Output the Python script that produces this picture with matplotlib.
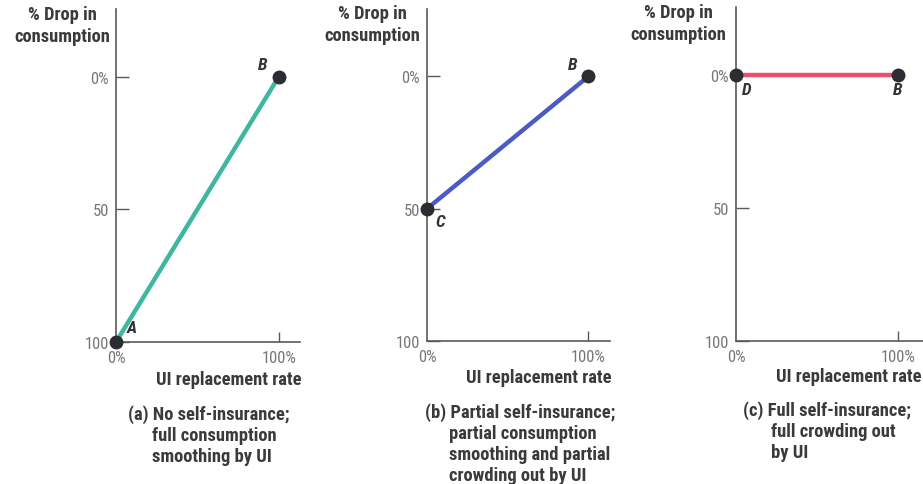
import matplotlib
matplotlib.use("Agg")
import matplotlib.pyplot as plt

plt.rcParams['font.family'] = ['Liberation Sans Narrow', 'Roboto Condensed', 'DejaVu Sans']

# Data
ui_rate = [0, 100]
drop_a = [100, 0]
drop_b = [50, 0]
drop_c = [0, 0]
ytick_vals = [0, 50, 100]
ytick_labels = ["0%", "50", "100"]
xtick_vals = [0, 100]
xtick_labels = ["0%", "100%"]
captions = [
    ["(a) No self-insurance;", "full consumption", "smoothing by UI"],
    ["(b) Partial self-insurance;", "partial consumption", "smoothing and partial", "crowding out by UI"],
    ["(c) Full self-insurance;", "full crowding out", "by UI"],
]
colors = ["#3fb6a0", "#4a5cc4", "#ec4f6c"]
series = [drop_a, drop_b, drop_c]
point_names = [("A", "B"), ("C", "B"), ("D", "B")]

W, H = 923, 485
fig = plt.figure(figsize=(W / 100, H / 100), dpi=100)

def fx(px):
    return px / W

def fy(py):
    return 1 - py / H

# axes boxes in pixel: left, right, top, bottom, xmax
boxes = [(116, 300, 10, 343, 113), (427, 610, 10, 342, 113.5), (736, 923, 8, 342, 115.3)]
ylab_x = [62, 372, 678]
ylab_y = [26, 25, 24]
xlab_right = [302, 612, 922]
xlab_y = [380, 378, 377]
cap_x = [(128, 152), (425, 449), (743, 771)]
cap_y0 = [415, 413, 411]

grey = "#5a5a5a"
dark = "#333338"
tfs = 13.3

for i in range(3):
    l, r, t, b, xmax = boxes[i]
    ax = fig.add_axes([fx(l), fy(b), fx(r) - fx(l), fy(t) - fy(b)])
    ax.set_xlim(0, xmax)
    ax.set_ylim(100, -25.5)
    for s in ["top", "right"]:
        ax.spines[s].set_visible(False)
    for s in ["left", "bottom"]:
        ax.spines[s].set_color(grey)
        ax.spines[s].set_linewidth(1.2)
    ax.set_yticks(ytick_vals)
    ax.set_yticklabels(ytick_labels)
    ax.set_xticks(xtick_vals)
    ax.set_xticklabels(xtick_labels)
    ax.tick_params(axis="y", direction="in", length=9, width=1.0, color=grey,
                   labelsize=12, labelcolor="#777777", pad=5)
    ax.tick_params(axis="x", direction="in", length=7, width=1.0, color=grey,
                   labelsize=12, labelcolor="#777777", pad=6)
    ax.xaxis.get_major_ticks()[0].tick1line.set_visible(False)
    ax.plot(ui_rate, series[i], color=colors[i], lw=3.2, solid_capstyle="butt",
            clip_on=False, zorder=3)
    ax.plot(ui_rate, series[i], 'o', color="#2c2c33", ms=9, clip_on=False, zorder=4)
    n0, n1 = point_names[i]
    x0, y0 = ui_rate[0], series[i][0]
    x1, y1 = ui_rate[1], series[i][1]
    fs = 12.5
    kw = dict(textcoords="offset points", fontsize=fs, fontweight="bold",
              style="italic", color=dark, annotation_clip=False)
    if i == 0:
        ax.annotate(n0, (x0, y0), xytext=(8, 5), ha="left", va="bottom", **kw)
        ax.annotate(n1, (x1, y1), xytext=(-8, 3), ha="right", va="bottom", **kw)
    elif i == 1:
        ax.annotate(n0, (x0, y0), xytext=(6, -4), ha="left", va="top", **kw)
        ax.annotate(n1, (x1, y1), xytext=(-8, 3), ha="right", va="bottom", **kw)
    else:
        ax.annotate(n0, (x0, y0), xytext=(4, -5), ha="left", va="top", **kw)
        ax.annotate(n1, (x1, y1), xytext=(0, -5), ha="center", va="top", **kw)

    fig.text(fx(ylab_x[i]), fy(ylab_y[i]), "% Drop in\nconsumption", ha="center", va="center",
             fontsize=tfs, fontweight="bold", color="#3a3a3a", linespacing=1.3)
    fig.text(fx(xlab_right[i]), fy(xlab_y[i]), "UI replacement rate", ha="right", va="center",
             fontsize=tfs, fontweight="bold", color="#3a3a3a")
    for k, line in enumerate(captions[i]):
        xx = cap_x[i][0] if k == 0 else cap_x[i][1]
        fig.text(fx(xx), fy(cap_y0[i] + 21 * k), line, ha="left", va="center",
                 fontsize=tfs, fontweight="bold", color="#3a3a3a")

fig.savefig("out.png", dpi=100, facecolor="white")
